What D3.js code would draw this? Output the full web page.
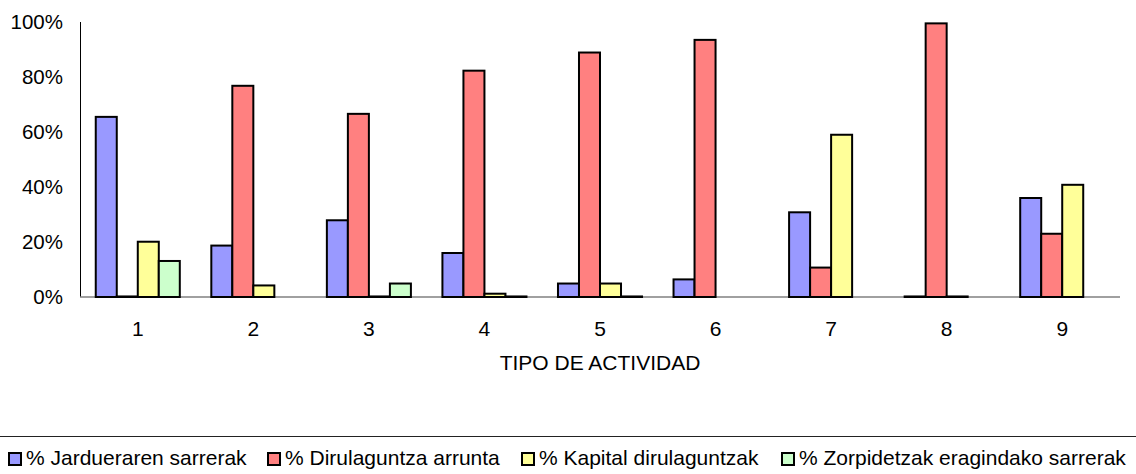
<!DOCTYPE html>
<html>
<head>
<meta charset="utf-8">
<script src="https://cdn.jsdelivr.net/npm/d3@7"></script>
<style>
  body { margin: 0; background: #fff; }
  text { font-family: Arial, 'Liberation Sans', sans-serif; fill: #000; }
</style>
</head>
<body>
<script>
// Chart data (percent)
const groups = ['1', '2', '3', '4', '5', '6', '7', '8', '9'];
const seriesNames = [
  '% Jardueraren sarrerak',
  '% Dirulaguntza arrunta',
  '% Kapital dirulaguntzak',
  '% Zorpidetzak eragindako sarrerak'
];
const jarduera = [65.5, 18.7, 27.9, 16.0, 4.9, 6.4, 30.8, 0.2, 36.0];
const arrunta = [0.2, 76.8, 66.6, 82.3, 88.9, 93.5, 10.7, 99.5, 23.0];
const kapital = [20.1, 4.2, 0.2, 1.2, 4.9, null, 59.0, 0.2, 40.8];
const zorpidetza = [13.1, null, 4.9, 0.2, 0.2, null, null, null, null];
const yTicks = [0, 20, 40, 60, 80, 100];
const colors = ['#9999ff', '#ff8080', '#ffff99', '#ccffcc'];

const series = [jarduera, arrunta, kapital, zorpidetza];

const fullWidth = 1136;
const fullHeight = 474;
const margin = { top: 22, right: 16, bottom: 177, left: 80 };
const width = fullWidth - margin.left - margin.right;
const height = fullHeight - margin.top - margin.bottom;

const svg = d3.select('body')
  .append('svg')
  .attr('width', fullWidth)
  .attr('height', fullHeight);

const x = d3.scaleBand()
  .domain(groups)
  .range([margin.left, margin.left + width]);

const xSub = d3.scaleBand()
  .domain(d3.range(seriesNames.length))
  .range([0, x.bandwidth()])
  .paddingOuter(0.75);

const y = d3.scaleLinear()
  .domain([0, 100])
  .range([margin.top + height, margin.top]);

// Y axis labels
svg.append('g')
  .selectAll('text')
  .data(yTicks)
  .enter()
  .append('text')
  .attr('x', margin.left - 17)
  .attr('y', d => y(d))
  .attr('dy', '0.36em')
  .attr('text-anchor', 'end')
  .style('font-size', '20.5px')
  .text(d => `${d}%`);

// Y axis line
svg.append('line')
  .attr('x1', margin.left + 0.5)
  .attr('x2', margin.left + 0.5)
  .attr('y1', y(100))
  .attr('y2', y(0))
  .attr('stroke', '#000')
  .attr('stroke-width', 1);

// Baseline
svg.append('line')
  .attr('x1', margin.left)
  .attr('x2', margin.left + width)
  .attr('y1', y(0))
  .attr('y2', y(0))
  .attr('stroke', '#808080')
  .attr('stroke-width', 1.5);

// Bars
const bars = [];
groups.forEach((g, gi) => {
  series.forEach((s, si) => {
    if (s[gi] !== null) bars.push({ g, si, v: s[gi] });
  });
});

svg.append('g')
  .selectAll('rect')
  .data(bars)
  .enter()
  .append('rect')
  .attr('x', d => x(d.g) + xSub(d.si))
  .attr('y', d => y(d.v))
  .attr('width', xSub.bandwidth())
  .attr('height', d => y(0) - y(d.v))
  .attr('fill', d => colors[d.si])
  .attr('stroke', '#000')
  .attr('stroke-width', 2);

// X labels
svg.append('g')
  .selectAll('text')
  .data(groups)
  .enter()
  .append('text')
  .attr('x', d => x(d) + x.bandwidth() / 2)
  .attr('y', 336)
  .attr('text-anchor', 'middle')
  .style('font-size', '21px')
  .text(d => d);

// X title
svg.append('text')
  .attr('x', margin.left + width / 2)
  .attr('y', 370)
  .attr('text-anchor', 'middle')
  .style('font-size', '21px')
  .text('TIPO DE ACTIVIDAD');

// Legend
svg.append('line')
  .attr('x1', 0)
  .attr('x2', fullWidth)
  .attr('y1', 436.5)
  .attr('y2', 436.5)
  .attr('stroke', '#222')
  .attr('stroke-width', 1);

const legendX = [9, 268, 522, 782];
const leg = svg.append('g');

leg.selectAll('rect')
  .data(seriesNames)
  .enter()
  .append('rect')
  .attr('x', (d, i) => legendX[i])
  .attr('y', 453)
  .attr('width', 12)
  .attr('height', 12)
  .attr('fill', (d, i) => colors[i])
  .attr('stroke', '#000')
  .attr('stroke-width', 2);

leg.selectAll('text')
  .data(seriesNames)
  .enter()
  .append('text')
  .attr('x', (d, i) => legendX[i] + 17)
  .attr('y', 465)
  .style('font-size', '21px')
  .text(d => d);
</script>
</body>
</html>
